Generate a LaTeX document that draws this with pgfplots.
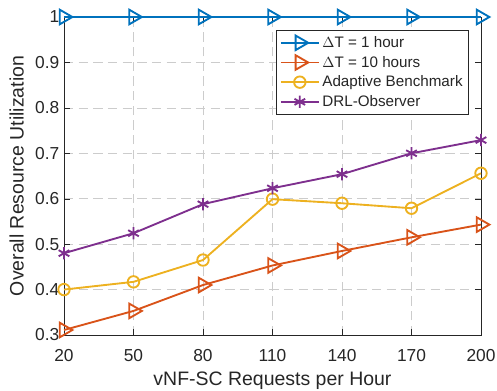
\documentclass[border=0pt]{standalone}
\usepackage{pgfplots}
\pgfplotsset{compat=1.18}
\usepackage{fontspec}
\setmainfont{Liberation Sans}
\definecolor{mblue}{rgb}{0,0.447,0.741}
\definecolor{mred}{rgb}{0.85,0.325,0.098}
\definecolor{myellow}{rgb}{0.929,0.694,0.125}
\definecolor{mpurple}{rgb}{0.494,0.184,0.556}
\definecolor{mtext}{rgb}{0.15,0.15,0.15}
\begin{document}
\begin{tikzpicture}
\begin{axis}[
  name=ax,
  width=312.75pt, height=238.5pt, scale only axis,
  xmin=20, xmax=200, ymin=0.3, ymax=1,
  xtick={20,50,80,110,140,170,200},
  ytick={0.3,0.4,0.5,0.6,0.7,0.8,0.9,1},
  yticklabels={0.3,0.4,0.5,0.6,0.7,0.8,0.9,1},
  /pgf/number format/assume math mode=true,
  tick label style={font=\fontsize{13}{14}\selectfont, text=mtext},
  xticklabel style={yshift=-7pt},
  xlabel={vNF-SC Requests per Hour},
  ylabel={Overall Resource Utilization},
  xlabel style={at={([yshift=-37.5pt]axis description cs:0.5,0)}, anchor=base, font=\fontsize{14.6}{16}\selectfont, text=mtext},
  ylabel style={at={([xshift=-35.5pt]axis description cs:0,0.5)}, rotate=0, anchor=center, font=\fontsize{14.6}{16}\selectfont, text=mtext},
  axis line style={mtext, line width=0.5pt},
  tick style={mtext},
  grid=major,
  major grid style={dash pattern=on 7pt off 4pt, gray!40, line width=0.5pt},
  clip=false,
  legend style={at={(0.971,0.959)}, anchor=north east, font=\fontsize{11.4}{13}\selectfont, text=mtext, draw=mtext, row sep=1pt, inner sep=2.5pt},
  legend cell align=left,
  legend image code/.code={\draw[mark repeat=2,mark phase=2] plot coordinates {(0cm,0cm) (0.5cm,0cm) (1cm,0cm)};},
  every axis plot/.append style={line width=1.4pt},
]
\addplot[mblue, mark=triangle, mark size=6.3pt, mark options={rotate=-90, solid, fill=none}] coordinates {(20,1) (50,1) (80,1) (110,1) (140,1) (170,1) (200,1)};
\addlegendentry{$\Delta$T = 1 hour}
\addplot[mred, mark=triangle, mark size=6.3pt, mark options={rotate=-90, solid, fill=none}] coordinates {(20,0.311) (50,0.353) (80,0.41) (110,0.453) (140,0.485) (170,0.515) (200,0.543)};
\addlegendentry{$\Delta$T = 10 hours}
\addplot[myellow, mark=o, mark size=4.3pt] coordinates {(20,0.40) (50,0.417) (80,0.465) (110,0.599) (140,0.590) (170,0.579) (200,0.656)};
\addlegendentry{Adaptive Benchmark}
\addplot[mpurple, mark=asterisk, mark size=4.6pt] coordinates {(20,0.48) (50,0.524) (80,0.588) (110,0.623) (140,0.654) (170,0.70) (200,0.729)};
\addlegendentry{DRL-Observer}
\end{axis}
\pgfresetboundingbox
\useasboundingbox ([xshift=-48pt,yshift=-41.25pt]ax.south west) rectangle ([xshift=12pt,yshift=12.75pt]ax.north east);
\end{tikzpicture}
\end{document}
